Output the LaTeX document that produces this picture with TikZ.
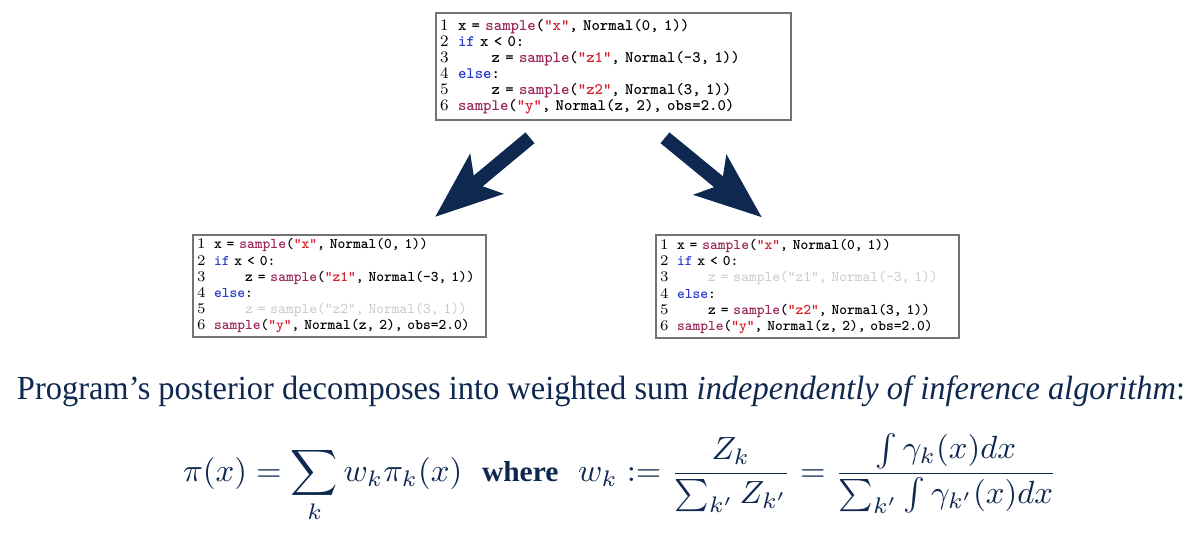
\documentclass[tikz,border=0pt]{standalone}
\usepackage{fontspec}
\usepackage{amsmath}
\usepackage{graphicx}
\usetikzlibrary{arrows.meta,calc,positioning}
\newfontfamily\headfont{Liberation Serif}
\newfontfamily\codefont{lmmono10-regular.otf}[BoldFont=lmmonolt10-bold.otf]
\definecolor{navy}{RGB}{14,40,80}
\definecolor{smpcol}{RGB}{155,40,90}
\definecolor{strcol}{RGB}{215,30,40}
\definecolor{kwcol}{RGB}{40,60,210}
\definecolor{ghost}{RGB}{200,200,200}
\definecolor{boxgray}{RGB}{115,115,115}

\newcommand{\smp}{\textcolor{smpcol}{sample}}
\newcommand{\str}[1]{\textcolor{strcol}{"#1"}}
\newcommand{\kw}[1]{\textcolor{kwcol}{#1}}
\newcommand{\lno}[1]{\makebox[9pt][l]{\rmfamily\mdseries #1}}
\newcommand{\lnos}[1]{\makebox[8.5pt][l]{\rmfamily\mdseries #1}}
\newcommand{\ind}{\hphantom{xxxx}}
\newcommand{\faded}[1]{\textcolor{ghost}{\mdseries #1}}

\tikzset{
  codebox/.style={draw=boxgray, line width=0.8pt, fill=white, align=left, inner sep=2pt,
    font=\fontsize{8}{8}\selectfont\codefont\bfseries\frenchspacing},
  smallcode/.style={codebox, font=\fontsize{7.4}{8.1}\selectfont\codefont\bfseries\frenchspacing},
  bigarrow/.style={draw=navy, line width=7pt, -{Stealth[length=33pt,width=25pt,inset=7pt]}},
}

\begin{document}
\begin{tikzpicture}[x=0.5pt,y=-0.5pt]
    \useasboundingbox (0,0) rectangle (1200,542); % keeps the page 1200x542

    % the program and its two branches
    \node[codebox, text width=173.5pt, minimum height=53.5pt] (top) at (613.5,66.5) {%
      \lno{1}x = \smp(\str{x}, Normal(0, 1))\\
      \lno{2}\kw{if} x < 0:\\
      \lno{3}\ind z = \smp(\str{z1}, Normal(-3, 1))\\
      \lno{4}\kw{else}:\\
      \lno{5}\ind z = \smp(\str{z2}, Normal(3, 1))\\
      \lno{6}\smp(\str{y}, Normal(z, 2), obs=2.0)};

    \node[smallcode, text width=142.5pt, minimum height=50pt] (left) at (339.5,286) {%
      \lnos{1}x = \smp(\str{x}, Normal(0, 1))\\
      \lnos{2}\kw{if} x < 0:\\
      \lnos{3}\ind z = \smp(\str{z1}, Normal(-3, 1))\\
      \lnos{4}\kw{else}:\\
      \lnos{5}\ind \faded{z = sample("z2", Normal(3, 1))}\\
      \lnos{6}\smp(\str{y}, Normal(z, 2), obs=2.0)};

    \node[smallcode, text width=147.5pt, minimum height=50.5pt] (right) at (807.5,286.5) {%
      \lnos{1}x = \smp(\str{x}, Normal(0, 1))\\
      \lnos{2}\kw{if} x < 0:\\
      \lnos{3}\ind \faded{z = sample("z1", Normal(-3, 1))}\\
      \lnos{4}\kw{else}:\\
      \lnos{5}\ind z = \smp(\str{z2}, Normal(3, 1))\\
      \lnos{6}\smp(\str{y}, Normal(z, 2), obs=2.0)};

    % arrow ends, kept a little off the boxes
    \coordinate (lfrom) at ($(top.south)+(-83.5,17)$);
    \coordinate (lto)   at ($(left.north)+(95.5,-17)$);
    \coordinate (rfrom) at ($(top.south)+(51.5,17)$);
    \coordinate (rto)   at ($(right.north)+(-45.5,-17)$);
    \draw[bigarrow] (lfrom) -- (lto);
    \draw[bigarrow] (rfrom) -- (rto);

    % caption and formula
    \node[inner sep=0pt, text=navy] (caption) at (601,391.5)
      {\resizebox*{584pt}{15.5pt}{\headfont Program’s posterior decomposes into weighted sum \textit{independently of inference algorithm}:}};
    \node[inner sep=0pt, text=navy] (formula) at (620,478)
      {\resizebox*{437pt}{45pt}{$\displaystyle \pi(x) = \sum_k w_k\pi_k(x)$\hspace{0.6em}{\headfont\bfseries\small where}\hspace{0.6em}%
       $\displaystyle w_k := \frac{Z_k}{\sum_{k'} Z_{k'}} = \frac{\int \gamma_k(x)dx}{\sum_{k'}\int \gamma_{k'}(x)dx}$}};
\end{tikzpicture}
\end{document}
